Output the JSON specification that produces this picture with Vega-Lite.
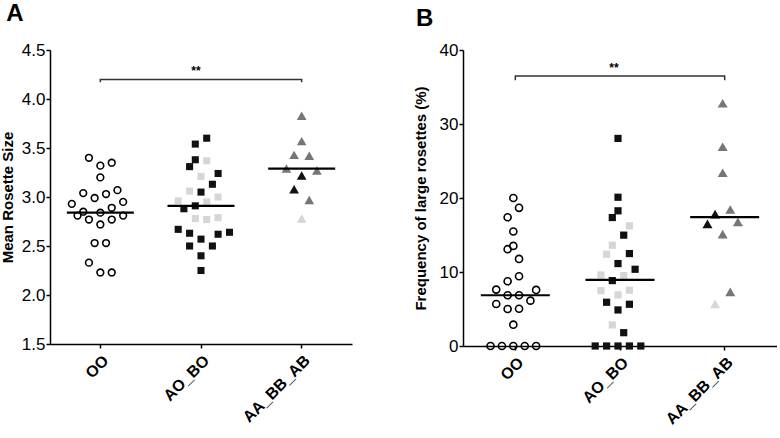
{
  "$schema": "https://vega.github.io/schema/vega-lite/v6.json",
  "padding": {"left": 0, "top": 2, "right": 0, "bottom": 0},
  "background": "white",
  "spacing": 61,
  "config": {
    "view": {"stroke": null},
    "font": "Liberation Sans",
    "axis": {"domainColor": "#000", "domainWidth": 1.5, "tickColor": "#000", "tickWidth": 1.5, "labelColor": "#000", "titleColor": "#000", "grid": false},
    "axisX": {"labelFont": "Liberation Sans", "labelFontWeight": "bold", "labelFontSize": 16, "labelAngle": -45, "tickSize": 4, "labelPadding": 4, "title": null},
    "axisY": {"labelFontSize": 17, "tickSize": 4, "labelPadding": 1, "titleFontSize": 15, "titleFontWeight": "bold", "titlePadding": 6},
    "title": {"fontSize": 24, "fontWeight": "bold", "anchor": "start", "color": "#000", "frame": "bounds"}
  },
  "datasets": {
    "a": [
      {"group": "OO", "value": 3.40, "dodge": -2, "shade": "open"},
      {"group": "OO", "value": 3.32, "dodge": 0, "shade": "open"},
      {"group": "OO", "value": 3.35, "dodge": 2, "shade": "open"},
      {"group": "OO", "value": 3.20, "dodge": 0, "shade": "open"},
      {"group": "OO", "value": 3.04, "dodge": -3, "shade": "open"},
      {"group": "OO", "value": 2.99, "dodge": -1, "shade": "open"},
      {"group": "OO", "value": 3.03, "dodge": 1, "shade": "open"},
      {"group": "OO", "value": 3.07, "dodge": 3, "shade": "open"},
      {"group": "OO", "value": 2.93, "dodge": -5, "shade": "open"},
      {"group": "OO", "value": 2.89, "dodge": 2, "shade": "open"},
      {"group": "OO", "value": 2.95, "dodge": 4, "shade": "open"},
      {"group": "OO", "value": 2.85, "dodge": -3, "shade": "open"},
      {"group": "OO", "value": 2.84, "dodge": 0, "shade": "open"},
      {"group": "OO", "value": 2.81, "dodge": -4, "shade": "open"},
      {"group": "OO", "value": 2.81, "dodge": 4, "shade": "open"},
      {"group": "OO", "value": 2.77, "dodge": -2, "shade": "open"},
      {"group": "OO", "value": 2.77, "dodge": 2, "shade": "open"},
      {"group": "OO", "value": 2.72, "dodge": 0, "shade": "open"},
      {"group": "OO", "value": 2.53, "dodge": -1, "shade": "open"},
      {"group": "OO", "value": 2.53, "dodge": 1, "shade": "open"},
      {"group": "OO", "value": 2.33, "dodge": -2, "shade": "open"},
      {"group": "OO", "value": 2.23, "dodge": 0, "shade": "open"},
      {"group": "OO", "value": 2.23, "dodge": 2, "shade": "open"},
      {"group": "AO_BO", "value": 3.60, "dodge": 1, "shade": "black"},
      {"group": "AO_BO", "value": 3.54, "dodge": -1, "shade": "black"},
      {"group": "AO_BO", "value": 3.38, "dodge": -1, "shade": "black"},
      {"group": "AO_BO", "value": 3.31, "dodge": -2, "shade": "black"},
      {"group": "AO_BO", "value": 3.24, "dodge": 3, "shade": "black"},
      {"group": "AO_BO", "value": 3.13, "dodge": 2, "shade": "black"},
      {"group": "AO_BO", "value": 3.05, "dodge": 0, "shade": "black"},
      {"group": "AO_BO", "value": 2.91, "dodge": -1, "shade": "black"},
      {"group": "AO_BO", "value": 2.88, "dodge": -3, "shade": "black"},
      {"group": "AO_BO", "value": 2.67, "dodge": -4, "shade": "black"},
      {"group": "AO_BO", "value": 2.63, "dodge": -2, "shade": "black"},
      {"group": "AO_BO", "value": 2.57, "dodge": 0, "shade": "black"},
      {"group": "AO_BO", "value": 2.62, "dodge": 3, "shade": "black"},
      {"group": "AO_BO", "value": 2.64, "dodge": 5, "shade": "black"},
      {"group": "AO_BO", "value": 2.50, "dodge": -2, "shade": "black"},
      {"group": "AO_BO", "value": 2.50, "dodge": 2, "shade": "black"},
      {"group": "AO_BO", "value": 2.40, "dodge": 0, "shade": "black"},
      {"group": "AO_BO", "value": 2.25, "dodge": 0, "shade": "black"},
      {"group": "AO_BO", "value": 3.37, "dodge": 1, "shade": "light"},
      {"group": "AO_BO", "value": 3.21, "dodge": 0, "shade": "light"},
      {"group": "AO_BO", "value": 3.06, "dodge": -2, "shade": "light"},
      {"group": "AO_BO", "value": 2.96, "dodge": -4, "shade": "light"},
      {"group": "AO_BO", "value": 2.95, "dodge": 1, "shade": "light"},
      {"group": "AO_BO", "value": 3.00, "dodge": 3, "shade": "light"},
      {"group": "AO_BO", "value": 2.78, "dodge": -1, "shade": "light"},
      {"group": "AO_BO", "value": 2.77, "dodge": 1, "shade": "light"},
      {"group": "AO_BO", "value": 2.79, "dodge": 3, "shade": "light"},
      {"group": "AA_BB_AB", "value": 3.83, "dodge": 0, "shade": "dark"},
      {"group": "AA_BB_AB", "value": 3.57, "dodge": 0, "shade": "dark"},
      {"group": "AA_BB_AB", "value": 3.43, "dodge": -1.33, "shade": "dark"},
      {"group": "AA_BB_AB", "value": 3.42, "dodge": 1.33, "shade": "dark"},
      {"group": "AA_BB_AB", "value": 3.29, "dodge": -2.67, "shade": "dark"},
      {"group": "AA_BB_AB", "value": 3.27, "dodge": 2.67, "shade": "dark"},
      {"group": "AA_BB_AB", "value": 3.22, "dodge": 0, "shade": "black"},
      {"group": "AA_BB_AB", "value": 3.08, "dodge": -1.33, "shade": "black"},
      {"group": "AA_BB_AB", "value": 2.97, "dodge": 1.33, "shade": "dark"},
      {"group": "AA_BB_AB", "value": 2.78, "dodge": 0, "shade": "light"}
    ],
    "b": [
      {"group": "OO", "value": 20.0, "dodge": 0, "shade": "open"},
      {"group": "OO", "value": 18.67, "dodge": 1, "shade": "open"},
      {"group": "OO", "value": 17.4, "dodge": -1, "shade": "open"},
      {"group": "OO", "value": 15.47, "dodge": 0, "shade": "open"},
      {"group": "OO", "value": 13.53, "dodge": 0, "shade": "open"},
      {"group": "OO", "value": 13.08, "dodge": -1, "shade": "open"},
      {"group": "OO", "value": 11.77, "dodge": 1, "shade": "open"},
      {"group": "OO", "value": 9.43, "dodge": 1, "shade": "open"},
      {"group": "OO", "value": 8.75, "dodge": -1, "shade": "open"},
      {"group": "OO", "value": 7.62, "dodge": -3, "shade": "open"},
      {"group": "OO", "value": 7.58, "dodge": 4, "shade": "open"},
      {"group": "OO", "value": 6.86, "dodge": -1, "shade": "open"},
      {"group": "OO", "value": 6.86, "dodge": 1, "shade": "open"},
      {"group": "OO", "value": 5.68, "dodge": -3, "shade": "open"},
      {"group": "OO", "value": 6.13, "dodge": 3, "shade": "open"},
      {"group": "OO", "value": 5.0, "dodge": -1, "shade": "open"},
      {"group": "OO", "value": 5.03, "dodge": 1, "shade": "open"},
      {"group": "OO", "value": 2.88, "dodge": 0, "shade": "open"},
      {"group": "OO", "value": 0, "dodge": -4, "shade": "open"},
      {"group": "OO", "value": 0, "dodge": -2, "shade": "open"},
      {"group": "OO", "value": 0, "dodge": 0, "shade": "open"},
      {"group": "OO", "value": 0, "dodge": 2, "shade": "open"},
      {"group": "OO", "value": 0, "dodge": 4, "shade": "open"},
      {"group": "AO_BO", "value": 28.05, "dodge": 0, "shade": "black"},
      {"group": "AO_BO", "value": 20.1, "dodge": 0, "shade": "black"},
      {"group": "AO_BO", "value": 18.27, "dodge": 0, "shade": "black"},
      {"group": "AO_BO", "value": 17.36, "dodge": -1, "shade": "black"},
      {"group": "AO_BO", "value": 14.98, "dodge": 1, "shade": "black"},
      {"group": "AO_BO", "value": 12.49, "dodge": 2, "shade": "black"},
      {"group": "AO_BO", "value": 11.14, "dodge": 0, "shade": "black"},
      {"group": "AO_BO", "value": 10.37, "dodge": 3, "shade": "black"},
      {"group": "AO_BO", "value": 8.84, "dodge": -1, "shade": "black"},
      {"group": "AO_BO", "value": 5.91, "dodge": -2, "shade": "black"},
      {"group": "AO_BO", "value": 5.64, "dodge": 2, "shade": "black"},
      {"group": "AO_BO", "value": 4.87, "dodge": 0, "shade": "black"},
      {"group": "AO_BO", "value": 1.8, "dodge": 1, "shade": "black"},
      {"group": "AO_BO", "value": 0, "dodge": -4, "shade": "black"},
      {"group": "AO_BO", "value": 0, "dodge": -2, "shade": "black"},
      {"group": "AO_BO", "value": 0, "dodge": 0, "shade": "black"},
      {"group": "AO_BO", "value": 0, "dodge": 2, "shade": "black"},
      {"group": "AO_BO", "value": 0, "dodge": 4, "shade": "black"},
      {"group": "AO_BO", "value": 16.24, "dodge": 2, "shade": "light"},
      {"group": "AO_BO", "value": 13.62, "dodge": -1, "shade": "light"},
      {"group": "AO_BO", "value": 12.41, "dodge": -2, "shade": "light"},
      {"group": "AO_BO", "value": 9.6, "dodge": -3, "shade": "light"},
      {"group": "AO_BO", "value": 9.51, "dodge": 1, "shade": "light"},
      {"group": "AO_BO", "value": 7.48, "dodge": -3, "shade": "light"},
      {"group": "AO_BO", "value": 7.54, "dodge": 2, "shade": "light"},
      {"group": "AO_BO", "value": 6.9, "dodge": 0, "shade": "light"},
      {"group": "AO_BO", "value": 2.84, "dodge": -1, "shade": "light"},
      {"group": "AA_BB_AB", "value": 32.8, "dodge": 0, "shade": "dark"},
      {"group": "AA_BB_AB", "value": 26.93, "dodge": 0, "shade": "dark"},
      {"group": "AA_BB_AB", "value": 23.41, "dodge": 0, "shade": "dark"},
      {"group": "AA_BB_AB", "value": 18.44, "dodge": 1.33, "shade": "dark"},
      {"group": "AA_BB_AB", "value": 17.82, "dodge": -1.33, "shade": "black"},
      {"group": "AA_BB_AB", "value": 16.78, "dodge": 2.67, "shade": "dark"},
      {"group": "AA_BB_AB", "value": 16.51, "dodge": -2.67, "shade": "black"},
      {"group": "AA_BB_AB", "value": 15.11, "dodge": 0, "shade": "dark"},
      {"group": "AA_BB_AB", "value": 7.31, "dodge": 1.33, "shade": "dark"},
      {"group": "AA_BB_AB", "value": 5.68, "dodge": -1.33, "shade": "light"}
    ],
    "medA": [
      {"group": "OO", "value": 2.84},
      {"group": "AO_BO", "value": 2.91},
      {"group": "AA_BB_AB", "value": 3.29}
    ],
    "medB": [
      {"group": "OO", "value": 6.86},
      {"group": "AO_BO", "value": 8.93},
      {"group": "AA_BB_AB", "value": 17.41}
    ],
    "brA": [
      {"group": "OO", "value": 4.17, "k": 1},
      {"group": "OO", "value": 4.2, "k": 2},
      {"group": "AA_BB_AB", "value": 4.2, "k": 3},
      {"group": "AA_BB_AB", "value": 4.17, "k": 4}
    ],
    "brB": [
      {"group": "OO", "value": 35.9, "k": 1},
      {"group": "OO", "value": 36.5, "k": 2},
      {"group": "AA_BB_AB", "value": 36.5, "k": 3},
      {"group": "AA_BB_AB", "value": 35.9, "k": 4}
    ],
    "sigA": [{"group": "AO_BO", "value": 4.2, "label": "**"}],
    "sigB": [{"group": "AO_BO", "value": 36.5, "label": "**"}]
  },
  "hconcat": [
    {
      "title": {"text": "A", "dx": 6, "offset": 15},
      "width": 302,
      "height": 294,
      "encoding": {
        "x": {"field": "group", "type": "nominal", "scale": {"domain": ["OO", "AO_BO", "AA_BB_AB"], "paddingInner": 0, "paddingOuter": 0}, "title": null},
        "y": {"field": "value", "type": "quantitative", "scale": {"domain": [1.5, 4.5], "nice": false, "zero": false}, "axis": {"values": [1.5, 2, 2.5, 3, 3.5, 4, 4.5], "format": ".1f"}, "title": "Mean Rosette Size"}
      },
      "layer": [
        {
          "data": {"name": "brA"},
          "mark": {"type": "line", "color": "#333", "strokeWidth": 1.5},
          "encoding": {"order": {"field": "k", "type": "quantitative"}}
        },
        {
          "data": {"name": "sigA"},
          "mark": {"type": "text", "fontSize": 12, "fontWeight": "bold", "baseline": "bottom", "dy": -1, "dx": -5, "fill": "#000", "color": "#000"},
          "encoding": {"text": {"field": "label"}}
        },
        {
          "data": {"name": "a"},
          "transform": [{"filter": "datum.group === 'OO'"}],
          "mark": {"type": "point", "shape": "circle", "filled": false, "size": 45, "strokeWidth": 1.6, "color": "#000", "opacity": 1},
          "encoding": {"xOffset": {"field": "dodge", "type": "quantitative", "scale": {"domain": [-8.83, 8.83], "range": [0, 100.67]}}}
        },
        {
          "data": {"name": "a"},
          "transform": [{"filter": "datum.group === 'AO_BO'"}],
          "mark": {"type": "point", "shape": "square", "filled": true, "size": 50, "opacity": 1},
          "encoding": {
            "xOffset": {"field": "dodge", "type": "quantitative", "scale": {"domain": [-8.83, 8.83], "range": [0, 100.67]}},
            "color": {"field": "shade", "type": "nominal", "scale": {"domain": ["open", "black", "dark", "light"], "range": ["#000000", "#111111", "#767676", "#d6d6d6"]}, "legend": null}
          }
        },
        {
          "data": {"name": "a"},
          "transform": [{"filter": "datum.group === 'AA_BB_AB'"}],
          "mark": {"type": "point", "shape": "triangle-up", "filled": true, "size": 95, "opacity": 1},
          "encoding": {
            "xOffset": {"field": "dodge", "type": "quantitative", "scale": {"domain": [-8.83, 8.83], "range": [0, 100.67]}},
            "color": {"field": "shade", "type": "nominal", "scale": {"domain": ["open", "black", "dark", "light"], "range": ["#000000", "#111111", "#767676", "#d6d6d6"]}, "legend": null}
          }
        },
        {
          "data": {"name": "medA"},
          "mark": {"type": "tick", "size": 67, "thickness": 2.2, "color": "#000", "opacity": 1}
        }
      ]
    },
    {
      "title": {"text": "B", "dx": 3, "offset": 10},
      "width": 314,
      "height": 296,
      "encoding": {
        "x": {"field": "group", "type": "nominal", "scale": {"domain": ["OO", "AO_BO", "AA_BB_AB"], "paddingInner": 0, "paddingOuter": 0}, "title": null},
        "y": {"field": "value", "type": "quantitative", "scale": {"domain": [0, 40], "nice": false}, "axis": {"values": [0, 10, 20, 30, 40], "titlePadding": 11}, "title": "Frequency of large rosettes (%)"}
      },
      "layer": [
        {
          "data": {"name": "brB"},
          "mark": {"type": "line", "color": "#333", "strokeWidth": 1.5},
          "encoding": {"order": {"field": "k", "type": "quantitative"}}
        },
        {
          "data": {"name": "sigB"},
          "mark": {"type": "text", "fontSize": 12, "fontWeight": "bold", "baseline": "bottom", "dy": -1, "dx": -6, "fill": "#000", "color": "#000"},
          "encoding": {"text": {"field": "label"}}
        },
        {
          "data": {"name": "b"},
          "transform": [{"filter": "datum.group === 'OO'"}],
          "mark": {"type": "point", "shape": "circle", "filled": false, "size": 50, "strokeWidth": 1.6, "color": "#000", "opacity": 1},
          "encoding": {"xOffset": {"field": "dodge", "type": "quantitative", "scale": {"domain": [-8.27, 8.27], "range": [0, 104.67]}}}
        },
        {
          "data": {"name": "b"},
          "transform": [{"filter": "datum.group === 'AO_BO'"}],
          "mark": {"type": "point", "shape": "square", "filled": true, "size": 52, "opacity": 1},
          "encoding": {
            "xOffset": {"field": "dodge", "type": "quantitative", "scale": {"domain": [-8.27, 8.27], "range": [0, 104.67]}},
            "color": {"field": "shade", "type": "nominal", "scale": {"domain": ["open", "black", "dark", "light"], "range": ["#000000", "#111111", "#767676", "#d6d6d6"]}, "legend": null}
          }
        },
        {
          "data": {"name": "b"},
          "transform": [{"filter": "datum.group === 'AA_BB_AB'"}],
          "mark": {"type": "point", "shape": "triangle-up", "filled": true, "size": 100, "opacity": 1},
          "encoding": {
            "xOffset": {"field": "dodge", "type": "quantitative", "scale": {"domain": [-8.27, 8.27], "range": [0, 104.67]}},
            "color": {"field": "shade", "type": "nominal", "scale": {"domain": ["open", "black", "dark", "light"], "range": ["#000000", "#111111", "#767676", "#d6d6d6"]}, "legend": null}
          }
        },
        {
          "data": {"name": "medB"},
          "mark": {"type": "tick", "size": 69, "thickness": 2.2, "color": "#000", "opacity": 1}
        }
      ]
    }
  ]
}
